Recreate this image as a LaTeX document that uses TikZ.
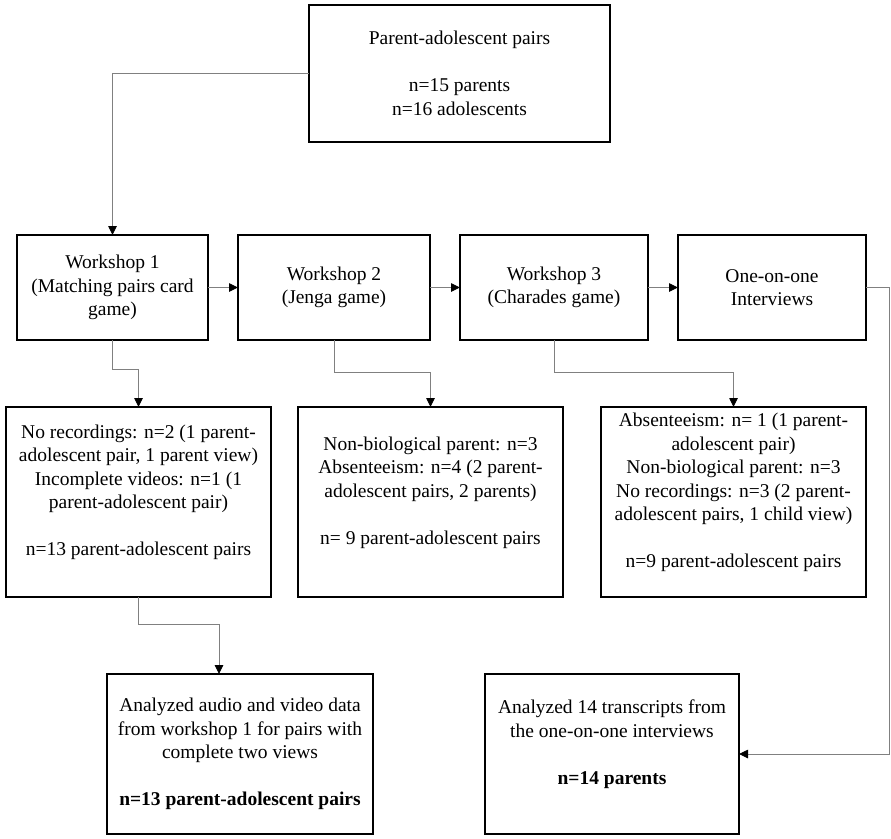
\documentclass[tikz,border=0pt]{standalone}
\usepackage{fontspec}
\setmainfont{Liberation Serif}
\usetikzlibrary{arrows.meta}
\tikzset{
  box/.style={draw=black, line width=1.2pt, inner sep=0pt, outer sep=0pt, align=center,
    font=\fontsize{19.5}{23.5}\selectfont, text=black},
  conn/.style={draw=black!50, line width=0.9pt, -{Triangle[length=9pt,width=8.5pt,black]}}
}
\begin{document}
\begin{tikzpicture}[x=1pt,y=-1pt]
\useasboundingbox[fill=white] (0,0) rectangle (891,838);

\node[box, minimum width=301pt, minimum height=137pt] (top) at (459.5,73.5)
  {Parent-adolescent pairs\\[23.5pt] n=15 parents\\ n=16 adolescents};

\node[box, minimum width=191pt, minimum height=105pt] (w1) at (112.5,287.5)
  {Workshop 1\\(Matching pairs card\\game)};
\node[box, minimum width=192pt, minimum height=105pt] (w2) at (334,287.5)
  {Workshop 2\\(Jenga game)};
\node[box, minimum width=188pt, minimum height=105pt] (w3) at (554,287.5)
  {Workshop 3\\(Charades game)};
\node[box, minimum width=188pt, minimum height=105pt] (w4) at (772,287.5)
  {One-on-one\\Interviews};

\node[box, minimum width=265pt, minimum height=190pt] (a) at (138.5,502)
  {No recordings: n=2 (1 parent-\\adolescent pair, 1 parent view)\\Incomplete videos: n=1 (1\\parent-adolescent pair)\\[23.5pt] n=13 parent-adolescent pairs\\ \mbox{}};
\node[box, minimum width=265pt, minimum height=190pt] (b) at (430.5,502)
  {Non-biological parent: n=3\\Absenteeism: n=4 (2 parent-\\adolescent pairs, 2 parents)\\[23.5pt] n= 9 parent-adolescent pairs\\ \mbox{}};
\node[box, minimum width=265pt, minimum height=190pt] (c) at (733.5,502)
  {Absenteeism: n= 1 (1 parent-\\adolescent pair)\\Non-biological parent: n=3\\No recordings: n=3 (2 parent-\\adolescent pairs, 1 child view)\\[23.5pt] n=9 parent-adolescent pairs\\ \mbox{}};

\node[box, minimum width=266pt, minimum height=160pt] (d) at (240,754)
  {Analyzed audio and video data\\from workshop 1 for pairs with\\complete two views\\[23.5pt]\textbf{n=13 parent-adolescent pairs}};
\node[box, minimum width=254pt, minimum height=160pt] (e) at (612,754)
  {Analyzed 14 transcripts from\\the one-on-one interviews\\[23.5pt]\textbf{n=14 parents}\\ \mbox{}};

\coordinate (c1) at (889,287.5);
\coordinate (dtop) at (219,674);

\draw[conn] (top.west) -| (w1.north);
\draw[conn] (w1.east) -- (w2.west);
\draw[conn] (w2.east) -- (w3.west);
\draw[conn] (w3.east) -- (w4.west);
\draw[conn] (w1.south) -- ++(0,29) -| (a.north);
\draw[conn] (w2.south) -- ++(0,32) -| (b.north);
\draw[conn] (w3.south) -- ++(0,32) -| (c.north);
\draw[conn] (a.south) -- ++(0,27) -| (dtop);
\draw[conn] (w4.east) -- (c1) |- (e.east);
\end{tikzpicture}
\end{document}
